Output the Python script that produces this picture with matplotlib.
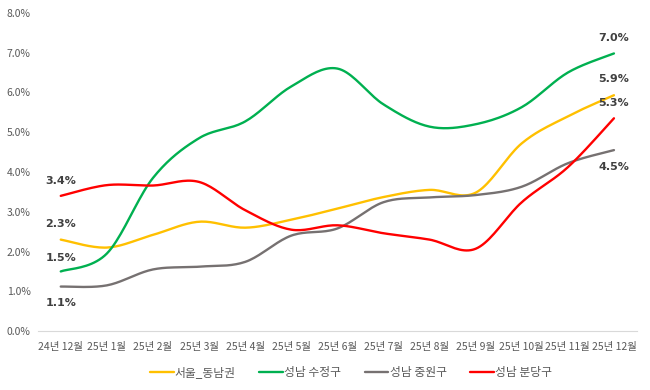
import numpy as np
import matplotlib
matplotlib.use('Agg')
import matplotlib.pyplot as plt

plt.rcParams['font.family'] = ['Noto Sans CJK KR', 'DejaVu Sans']

months = ['24년 12월', '25년 1월', '25년 2월', '25년 3월', '25년 4월', '25년 5월',
          '25년 6월', '25년 7월', '25년 8월', '25년 9월', '25년 10월', '25년 11월', '25년 12월']

seoul_se = [2.3, 2.1, 2.42, 2.75, 2.6, 2.8, 3.08, 3.37, 3.55, 3.48, 4.72, 5.4, 5.93]
sujeong = [1.5, 1.95, 3.85, 4.85, 5.27, 6.15, 6.6, 5.7, 5.14, 5.2, 5.63, 6.5, 6.98]
jungwon = [1.12, 1.15, 1.55, 1.62, 1.74, 2.4, 2.58, 3.24, 3.36, 3.42, 3.63, 4.22, 4.55]
bundang = [3.4, 3.67, 3.66, 3.75, 3.04, 2.55, 2.66, 2.46, 2.3, 2.07, 3.24, 4.12, 5.35]

series = [
    ('서울_동남권', seoul_se, '#FFC000'),
    ('성남 수정구', sujeong, '#00B050'),
    ('성남 중원구', jungwon, '#767171'),
    ('성남 분당구', bundang, '#FF0000'),
]

# first / last labels: vertical offset in points
first_off = {'서울_동남권': 11, '성남 수정구': 10, '성남 중원구': -12, '성남 분당구': 11}
last_off = {'서울_동남권': 12, '성남 수정구': 11, '성남 중원구': -12, '성남 분당구': 11}


def smooth(xs, ys, n=20):
    """Catmull-Rom curve through the points (like Excel's smoothed line)."""
    p = np.column_stack([xs, ys]).astype(float)
    p = np.vstack([p[0], p, p[-1]])
    out = []
    t = np.linspace(0, 1, n, endpoint=False)[:, None]
    for i in range(1, len(p) - 2):
        p0, p1, p2, p3 = p[i - 1], p[i], p[i + 1], p[i + 2]
        c1 = p1 + (p2 - p0) / 6
        c2 = p2 - (p3 - p1) / 6
        seg = ((1 - t) ** 3) * p1 + 3 * ((1 - t) ** 2) * t * c1 + 3 * (1 - t) * t ** 2 * c2 + t ** 3 * p2
        out.append(seg)
    out.append(p[-2][None, :])
    out = np.vstack(out)
    return out[:, 0], out[:, 1]


fig = plt.figure(figsize=(6.5, 3.9), dpi=100)
ax = fig.add_axes([0.058, 0.151, 0.922, 0.816])

x = np.arange(len(months))
for name, vals, color in series:
    sx, sy = smooth(x, vals)
    ax.plot(sx, sy, color=color, lw=1.7, label=name, solid_capstyle='round')
    ax.annotate(f'{vals[0]:.1f}%', (x[0], vals[0]), xytext=(0, first_off[name]),
                textcoords='offset points', ha='center', va='center',
                fontsize=8, fontweight='bold', color='#404040', family=['DejaVu Sans'])
    ax.annotate(f'{vals[-1]:.1f}%', (x[-1], vals[-1]), xytext=(0, last_off[name]),
                textcoords='offset points', ha='center', va='center',
                fontsize=8, fontweight='bold', color='#404040', family=['DejaVu Sans'])

ax.set_xlim(-0.5, len(months) - 0.5)
ax.set_ylim(0, 8)
ax.set_yticks(np.arange(0, 9, 1))
ax.set_yticklabels([f'{v:.1f}%' for v in range(9)])
ax.set_xticks(x)
ax.set_xticklabels(months)
ax.tick_params(axis='both', length=0, labelsize=7.5, colors='#595959')
ax.tick_params(axis='x', pad=8)
ax.tick_params(axis='y', pad=5)
for s in ['top', 'right', 'left']:
    ax.spines[s].set_visible(False)
ax.spines['bottom'].set_color('#D9D9D9')

fig.legend(loc='lower center', bbox_to_anchor=(0.54, 0.0), ncol=4, frameon=False,
           fontsize=8.5, handlelength=2.0, columnspacing=2.0, handletextpad=0.1,
           labelcolor='#595959')

fig.savefig('out.png', dpi=100)
